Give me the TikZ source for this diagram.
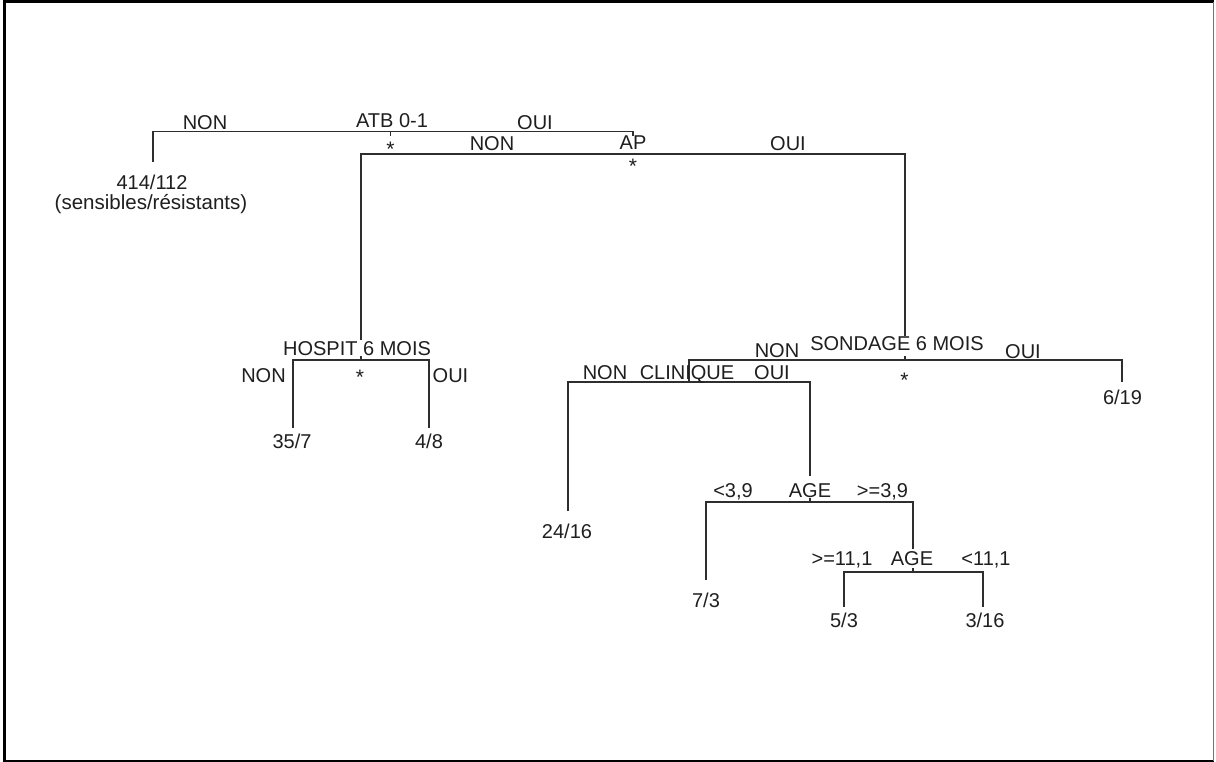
\documentclass[tikz,border=0pt]{standalone}
\usepackage{fontspec}
\setmainfont{Liberation Sans}
\begin{document}
\begin{tikzpicture}[x=1pt,y=-1pt,
  lbl/.style={anchor=base,inner sep=0pt,font=\fontsize{20}{24}\selectfont,text=black!88},
  small/.style={anchor=base,inner sep=0pt,font=\fontsize{20.5}{24}\selectfont,text=black!88},
  starlbl/.style={anchor=base,inner sep=0pt,font=\fontsize{21}{24}\selectfont,text=black!88},
  edge/.style={draw=black!82,line width=1.4pt},
  frameline/.style={draw=black,line width=3pt}]
\useasboundingbox (0,0) rectangle (1216,762);
\fill[white] (0,0) rectangle (1216,762);
% frame
\draw[frameline] (4.5,762) -- (4.5,2) -- (1214,2);
\draw[draw=black,line width=2pt] (4.5,761) -- (1214,761);
\draw[draw=black!55,line width=1.2pt] (1213.5,2) -- (1213.5,761);

% ---------- split points (coordinates) ----------
\coordinate (atbL) at (153,131.7);
\coordinate (atbC) at (390.5,131.7);
\coordinate (atbR) at (633,131.7);
\coordinate (atbT) at (390.5,136.5);
\coordinate (apTop) at (633,136);
\coordinate (apL) at (361,154);
\coordinate (apR) at (905,154);
\coordinate (leafA) at (153,161.7);

\coordinate (hosTop) at (361,340);
\coordinate (hosC) at (361,360);
\coordinate (hosCt) at (361,356);
\coordinate (hosL) at (293,360);
\coordinate (hosR) at (429,360);
\coordinate (leafB) at (293,428);
\coordinate (leafC) at (429,428);

\coordinate (sonTop) at (905,336);
\coordinate (sonC) at (905,360);
\coordinate (sonCt) at (905,355.5);
\coordinate (sonL) at (689,360);
\coordinate (sonR) at (1122,360);
\coordinate (leafD) at (1122,382);

\coordinate (cliC) at (689,382);
\coordinate (cliL) at (568,382);
\coordinate (cliR) at (810,382);
\coordinate (leafE) at (568,511);

\coordinate (ageTop) at (810,476);
\coordinate (ageC) at (810,502);
\coordinate (ageCt) at (810,498);
\coordinate (ageL) at (706,502);
\coordinate (ageR) at (913,502);
\coordinate (leafF) at (706,580);

\coordinate (agebTop) at (913,549);
\coordinate (agebC) at (913,572);
\coordinate (agebCt) at (913,568);
\coordinate (agebL) at (844,572);
\coordinate (agebR) at (983,572);
\coordinate (leafG) at (844,607);
\coordinate (leafH) at (983,607);

% ---------- connectors ----------
\draw[edge] (leafA) -- (atbL) -- (atbR) -- (apTop);
\draw[edge] (atbC) -- (atbT);
\draw[edge] (hosTop) -- (apL) -- (apR) -- (sonTop);
\draw[edge] (leafB) -- (hosL) -- (hosR) -- (leafC);
\draw[edge] (hosC) -- (hosCt);
\draw[edge] (cliC) -- (sonL) -- (sonR) -- (leafD);
\draw[edge] (sonC) -- (sonCt);
\draw[edge] (leafE) -- (cliL) -- (cliR) -- (ageTop);
\draw[edge] (leafF) -- (ageL) -- (ageR) -- (agebTop);
\draw[edge] (ageC) -- (ageCt);
\draw[edge] (leafG) -- (agebL) -- (agebR) -- (leafH);
\draw[edge] (agebC) -- (agebCt);

% ---------- labels ----------
\node[lbl] (atbNon) at (205,130) {NON};
\node[lbl] (atb) at (392,127.5) {ATB 0-1};
\node[lbl] (atbOui) at (535,129.5) {OUI};
\node[starlbl] (atbStar) at (390.5,157) {*};
\node[lbl] (leaf1) at (152,190) {414/112};
\node[small] (leaf1b) at (151,210) {(sensibles/résistants)};

\node[lbl] (ap) at (633,150) {AP};
\node[lbl] (apNon) at (492,151) {NON};
\node[lbl] (apOui) at (788,151) {OUI};
\node[starlbl] (apStar) at (633,174) {*};

\node[lbl] (hos) at (357,355) {HOSPIT 6 MOIS};
\node[lbl] (hosNon) at (263.5,382) {NON};
\node[lbl] (hosOui) at (450.5,382) {OUI};
\node[starlbl] (hosStar) at (360,384.5) {*};
\node[lbl] (leaf2) at (292,448) {35/7};
\node[lbl] (leaf3) at (429,448) {4/8};

\node[lbl] (son) at (897,350) {SONDAGE 6 MOIS};
\node[lbl] (sonNon) at (777,357) {NON};
\node[lbl] (sonOui) at (1023,358) {OUI};
\node[starlbl] (sonStar) at (904.5,387) {*};
\node[lbl] (leaf4) at (1122.5,404) {6/19};

\node[lbl] (cli) at (687,379) {CLINIQUE};
\node[lbl] (cliNon) at (605,379) {NON};
\node[lbl] (cliOui) at (772,379) {OUI};
\node[lbl] (leaf5) at (567,538) {24/16};

\node[lbl] (age) at (810,497) {AGE};
\node[lbl] (ageLo) at (733,497) {<3,9};
\node[lbl] (ageHi) at (882.5,497) {>=3,9};
\node[lbl] (leaf6) at (706,607) {7/3};

\node[lbl] (ageb) at (912,565) {AGE};
\node[lbl] (agebHi) at (842,565) {>=11,1};
\node[lbl] (agebLo) at (986,565) {<11,1};
\node[lbl] (leaf7) at (844,627) {5/3};
\node[lbl] (leaf8) at (985,627) {3/16};
\end{tikzpicture}
\end{document}
